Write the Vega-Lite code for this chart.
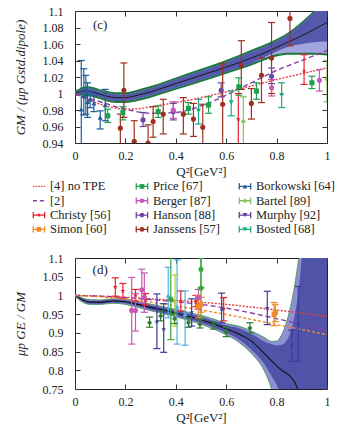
{
"$schema": "https://vega.github.io/schema/vega-lite/v6.json",
"padding": {"left": 13, "top": 4, "right": 0, "bottom": 2},
"spacing": 1,
"config": {
 "font": "Liberation Serif",
 "view": {"stroke": "#222", "strokeWidth": 1},
 "axis": {"grid": false, "domain": false, "tickSize": -5, "tickColor": "#333", "labelFontSize": 12, "titleFontSize": 13, "titleFontWeight": "normal", "labelColor": "#222", "titleColor": "#222", "labelFlush": false},
 "axisX": {"titlePadding": 4, "labelPadding": 12},
 "axisY": {"titlePadding": 15, "labelPadding": 17},
 "text": {"font": "Liberation Serif"}
},
"datasets": {
 "topband": [
  {"x":0,"c":1.000,"glo":0.9965,"ghi":1.0035,"llo":0.999,"lhi":1.001,"dlo":0.999},
  {"x":0.02,"c":1.002,"glo":0.9975,"ghi":1.0065,"llo":1.0,"lhi":1.004,"dlo":1.0},
  {"x":0.04,"c":1.003,"glo":0.9975,"ghi":1.0085,"llo":1.0,"lhi":1.006,"dlo":1.0},
  {"x":0.06,"c":1.0025,"glo":0.9965,"ghi":1.0085,"llo":0.999,"lhi":1.006,"dlo":0.999},
  {"x":0.08,"c":1.001,"glo":0.995,"ghi":1.007,"llo":0.9975,"lhi":1.0045,"dlo":0.9975},
  {"x":0.1,"c":0.999,"glo":0.993,"ghi":1.005,"llo":0.9955,"lhi":1.0025,"dlo":0.9955},
  {"x":0.13,"c":0.9965,"glo":0.99,"ghi":1.003,"llo":0.9925,"lhi":1.0005,"dlo":0.9925},
  {"x":0.16,"c":0.995,"glo":0.9885,"ghi":1.0015,"llo":0.991,"lhi":0.999,"dlo":0.991},
  {"x":0.2,"c":0.995,"glo":0.9885,"ghi":1.0015,"llo":0.991,"lhi":0.999,"dlo":0.991},
  {"x":0.25,"c":0.998,"glo":0.991,"ghi":1.005,"llo":0.9935,"lhi":1.0025,"dlo":0.9935},
  {"x":0.3,"c":1.002,"glo":0.995,"ghi":1.009,"llo":0.9975,"lhi":1.0065,"dlo":0.9975},
  {"x":0.4,"c":1.012,"glo":1.0045,"ghi":1.0195,"llo":1.007,"lhi":1.017,"dlo":1.007},
  {"x":0.5,"c":1.022,"glo":1.014,"ghi":1.03,"llo":1.0165,"lhi":1.0275,"dlo":1.0165},
  {"x":0.6,"c":1.032,"glo":1.024,"ghi":1.0405,"llo":1.0265,"lhi":1.038,"dlo":1.0265},
  {"x":0.7,"c":1.043,"glo":1.034,"ghi":1.053,"llo":1.0365,"lhi":1.0505,"dlo":1.0365},
  {"x":0.75,"c":1.049,"glo":1.04,"ghi":1.059,"llo":1.0425,"lhi":1.0565,"dlo":1.044},
  {"x":0.8,"c":1.056,"glo":1.045,"ghi":1.066,"llo":1.0475,"lhi":1.0635,"dlo":1.051},
  {"x":0.85,"c":1.063,"glo":1.047,"ghi":1.075,"llo":1.0495,"lhi":1.0725,"dlo":1.057},
  {"x":0.9,"c":1.07,"glo":1.047,"ghi":1.087,"llo":1.0495,"lhi":1.0845,"dlo":1.06},
  {"x":0.95,"c":1.078,"glo":1.047,"ghi":1.101,"llo":1.0495,"lhi":1.0985,"dlo":1.062},
  {"x":1.0,"c":1.086,"glo":1.046,"ghi":1.117,"llo":1.0485,"lhi":1.1145,"dlo":1.063}
 ],
 "toplines": [
  {"series":"[4] no TPE","x":0,"y":1.0},{"series":"[4] no TPE","x":0.05,"y":0.993},{"series":"[4] no TPE","x":0.1,"y":0.987},{"series":"[4] no TPE","x":0.15,"y":0.983},{"series":"[4] no TPE","x":0.2,"y":0.981},{"series":"[4] no TPE","x":0.25,"y":0.9815},{"series":"[4] no TPE","x":0.3,"y":0.984},{"series":"[4] no TPE","x":0.4,"y":0.989},{"series":"[4] no TPE","x":0.5,"y":0.995},{"series":"[4] no TPE","x":0.6,"y":1.002},{"series":"[4] no TPE","x":0.7,"y":1.009},{"series":"[4] no TPE","x":0.8,"y":1.017},{"series":"[4] no TPE","x":0.9,"y":1.024},{"series":"[4] no TPE","x":1.0,"y":1.031},
  {"series":"[2]","x":0,"y":1.0},{"series":"[2]","x":0.1,"y":0.99},{"series":"[2]","x":0.2,"y":0.981},{"series":"[2]","x":0.3,"y":0.976},{"series":"[2]","x":0.4,"y":0.977},{"series":"[2]","x":0.5,"y":0.985},{"series":"[2]","x":0.6,"y":0.998},{"series":"[2]","x":0.7,"y":1.013},{"series":"[2]","x":0.8,"y":1.028},{"series":"[2]","x":0.9,"y":1.04},{"series":"[2]","x":1.0,"y":1.052}
 ],
 "topdata": [
  {"series":"Borkowski [64]","x":0.025,"y":0.981,"lo":0.935,"hi":1.04},
  {"series":"Borkowski [64]","x":0.035,"y":0.997,"lo":0.974,"hi":1.03},
  {"series":"Borkowski [64]","x":0.043,"y":0.999,"lo":0.975,"hi":1.022},
  {"series":"Borkowski [64]","x":0.05,"y":0.99,"lo":0.971,"hi":1.013},
  {"series":"Borkowski [64]","x":0.06,"y":0.993,"lo":0.983,"hi":1.003},
  {"series":"Borkowski [64]","x":0.075,"y":0.988,"lo":0.978,"hi":0.998},
  {"series":"Borkowski [64]","x":0.1,"y":0.971,"lo":0.957,"hi":0.979},
  {"series":"Borkowski [64]","x":0.12,"y":0.986,"lo":0.967,"hi":1.005},
  {"series":"Price [67]","x":0.13,"y":0.973,"lo":0.965,"hi":0.981},
  {"series":"Price [67]","x":0.19,"y":0.977,"lo":0.968,"hi":0.984},
  {"series":"Price [67]","x":0.33,"y":0.978,"lo":0.971,"hi":0.985},
  {"series":"Price [67]","x":0.45,"y":0.982,"lo":0.975,"hi":0.989},
  {"series":"Price [67]","x":0.53,"y":0.986,"lo":0.976,"hi":0.996},
  {"series":"Price [67]","x":0.65,"y":1.008,"lo":0.998,"hi":1.019},
  {"series":"Price [67]","x":0.72,"y":1.003,"lo":0.993,"hi":1.013},
  {"series":"Price [67]","x":0.94,"y":1.013,"lo":1.006,"hi":1.021},
  {"series":"Janssens [57]","x":0.18,"y":0.958,"lo":0.935,"hi":0.975},
  {"series":"Janssens [57]","x":0.194,"y":1.004,"lo":0.971,"hi":1.037},
  {"series":"Janssens [57]","x":0.235,"y":0.942,"lo":0.93,"hi":0.967},
  {"series":"Janssens [57]","x":0.29,"y":0.94,"lo":0.93,"hi":0.962},
  {"series":"Janssens [57]","x":0.31,"y":0.966,"lo":0.947,"hi":0.984},
  {"series":"Janssens [57]","x":0.35,"y":0.975,"lo":0.951,"hi":0.993},
  {"series":"Janssens [57]","x":0.43,"y":0.975,"lo":0.951,"hi":0.995},
  {"series":"Janssens [57]","x":0.47,"y":0.969,"lo":0.948,"hi":0.988},
  {"series":"Janssens [57]","x":0.507,"y":0.959,"lo":0.93,"hi":0.987},
  {"series":"Janssens [57]","x":0.586,"y":0.987,"lo":0.93,"hi":1.036},
  {"series":"Janssens [57]","x":0.66,"y":1.034,"lo":1.005,"hi":1.064},
  {"series":"Janssens [57]","x":0.7,"y":0.988,"lo":0.969,"hi":1.006},
  {"series":"Janssens [57]","x":0.74,"y":1.022,"lo":0.989,"hi":1.043},
  {"series":"Janssens [57]","x":0.78,"y":1.043,"lo":1.0,"hi":1.086},
  {"series":"Janssens [57]","x":0.853,"y":1.091,"lo":1.058,"hi":1.12},
  {"series":"Hanson [88]","x":0.27,"y":0.968,"lo":0.96,"hi":0.977},
  {"series":"Hanson [88]","x":0.39,"y":0.978,"lo":0.968,"hi":0.988},
  {"series":"Hanson [88]","x":0.58,"y":1.004,"lo":0.996,"hi":1.013},
  {"series":"Hanson [88]","x":0.78,"y":1.021,"lo":1.012,"hi":1.031},
  {"series":"Berger [87]","x":0.39,"y":0.98,"lo":0.97,"hi":0.99},
  {"series":"Berger [87]","x":0.78,"y":1.007,"lo":0.997,"hi":1.017},
  {"series":"Berger [87]","x":0.97,"y":1.016,"lo":1.003,"hi":1.029},
  {"series":"Bosted [68]","x":0.49,"y":0.979,"lo":0.963,"hi":0.993},
  {"series":"Bosted [68]","x":0.62,"y":0.989,"lo":0.973,"hi":1.003},
  {"series":"Bosted [68]","x":0.82,"y":0.998,"lo":0.983,"hi":1.013},
  {"series":"Christy [56]","x":0.648,"y":0.969,"lo":0.93,"hi":1.0},
  {"series":"Christy [56]","x":0.909,"y":1.027,"lo":1.011,"hi":1.047},
  {"series":"Bartel [89]","x":0.668,"y":0.966,"lo":0.93,"hi":0.996},
  {"series":"Bartel [89]","x":1.0,"y":1.017,"lo":0.99,"hi":1.04}
 ],
 "botband": [
  {"x":0,"c":1.0,"olo":0.998,"ohi":1.002,"ilo":0.999,"ihi":1.001},
  {"x":0.03,"c":0.988,"olo":0.982,"ohi":0.993,"ilo":0.985,"ihi":0.991},
  {"x":0.06,"c":0.982,"olo":0.976,"ohi":0.989,"ilo":0.978,"ihi":0.986},
  {"x":0.1,"c":0.982,"olo":0.976,"ohi":0.988,"ilo":0.978,"ihi":0.986},
  {"x":0.15,"c":0.985,"olo":0.979,"ohi":0.991,"ilo":0.981,"ihi":0.989},
  {"x":0.2,"c":0.983,"olo":0.976,"ohi":0.99,"ilo":0.979,"ihi":0.987},
  {"x":0.25,"c":0.976,"olo":0.968,"ohi":0.984,"ilo":0.971,"ihi":0.981},
  {"x":0.3,"c":0.968,"olo":0.959,"ohi":0.977,"ilo":0.962,"ihi":0.974},
  {"x":0.35,"c":0.961,"olo":0.951,"ohi":0.97,"ilo":0.954,"ihi":0.967},
  {"x":0.4,"c":0.953,"olo":0.943,"ohi":0.963,"ilo":0.946,"ihi":0.96},
  {"x":0.45,"c":0.944,"olo":0.933,"ohi":0.955,"ilo":0.937,"ihi":0.951},
  {"x":0.5,"c":0.935,"olo":0.923,"ohi":0.947,"ilo":0.927,"ihi":0.943},
  {"x":0.55,"c":0.924,"olo":0.91,"ohi":0.937,"ilo":0.915,"ihi":0.932},
  {"x":0.6,"c":0.911,"olo":0.895,"ohi":0.925,"ilo":0.9,"ihi":0.92},
  {"x":0.65,"c":0.897,"olo":0.875,"ohi":0.918,"ilo":0.882,"ihi":0.912},
  {"x":0.7,"c":0.878,"olo":0.845,"ohi":0.905,"ilo":0.855,"ihi":0.897},
  {"x":0.75,"c":0.846,"olo":0.8,"ohi":0.888,"ilo":0.818,"ihi":0.877},
  {"x":0.78,"c":0.825,"olo":0.75,"ohi":0.877,"ilo":0.785,"ihi":0.87},
  {"x":0.8,"c":0.812,"olo":0.7,"ohi":0.878,"ilo":0.762,"ihi":0.866},
  {"x":0.82,"c":0.8,"olo":0.65,"ohi":0.895,"ilo":0.73,"ihi":0.868},
  {"x":0.85,"c":0.787,"olo":0.6,"ohi":0.955,"ilo":0.68,"ihi":0.893},
  {"x":0.87,"c":0.77,"olo":0.57,"ohi":1.02,"ilo":0.65,"ihi":0.94},
  {"x":0.89,"c":0.74,"olo":0.55,"ohi":1.11,"ilo":0.62,"ihi":1.03},
  {"x":0.9,"c":0.72,"olo":0.53,"ohi":1.16,"ilo":0.6,"ihi":1.1},
  {"x":0.92,"c":0.69,"olo":0.5,"ohi":1.25,"ilo":0.55,"ihi":1.2},
  {"x":1.0,"c":0.6,"olo":0.35,"ohi":1.6,"ilo":0.4,"ihi":1.5}
 ],
 "botlines": [
  {"series":"[4] no TPE","x":0,"y":1.0},{"series":"[4] no TPE","x":0.1,"y":0.998},{"series":"[4] no TPE","x":0.2,"y":0.995},{"series":"[4] no TPE","x":0.3,"y":0.991},{"series":"[4] no TPE","x":0.4,"y":0.987},{"series":"[4] no TPE","x":0.5,"y":0.982},{"series":"[4] no TPE","x":0.6,"y":0.976},{"series":"[4] no TPE","x":0.7,"y":0.969},{"series":"[4] no TPE","x":0.8,"y":0.961},{"series":"[4] no TPE","x":0.9,"y":0.953},{"series":"[4] no TPE","x":1.0,"y":0.944},
  {"series":"[2]","x":0,"y":1.0},{"series":"[2]","x":0.1,"y":0.998},{"series":"[2]","x":0.2,"y":0.994},{"series":"[2]","x":0.3,"y":0.989},{"series":"[2]","x":0.4,"y":0.983},{"series":"[2]","x":0.5,"y":0.976},{"series":"[2]","x":0.6,"y":0.966},{"series":"[2]","x":0.7,"y":0.953},{"series":"[2]","x":0.8,"y":0.938},{"series":"[2]","x":0.9,"y":0.922},{"series":"[2]","x":1.0,"y":0.906},
  {"series":"ref-o","x":0,"y":1.0},{"series":"ref-o","x":0.1,"y":0.996},{"series":"ref-o","x":0.2,"y":0.99},{"series":"ref-o","x":0.3,"y":0.982},{"series":"ref-o","x":0.4,"y":0.972},{"series":"ref-o","x":0.5,"y":0.961},{"series":"ref-o","x":0.6,"y":0.949},{"series":"ref-o","x":0.7,"y":0.936},{"series":"ref-o","x":0.8,"y":0.922},{"series":"ref-o","x":0.9,"y":0.909},{"series":"ref-o","x":1.0,"y":0.895}
 ],
 "botdata": [
  {"series":"Christy [56]","x":0.16,"y":1.023,"lo":0.998,"hi":1.047},
  {"series":"Christy [56]","x":0.19,"y":1.012,"lo":0.993,"hi":1.032},
  {"series":"Christy [56]","x":0.24,"y":1.0,"lo":0.985,"hi":1.016},
  {"series":"Christy [56]","x":0.28,"y":0.99,"lo":0.975,"hi":1.005},
  {"series":"Christy [56]","x":0.42,"y":0.985,"lo":0.958,"hi":1.012},
  {"series":"Christy [56]","x":0.48,"y":0.985,"lo":0.97,"hi":1.0},
  {"series":"Christy [56]","x":0.59,"y":0.965,"lo":0.932,"hi":0.994},
  {"series":"Berger [87]","x":0.225,"y":0.96,"lo":0.87,"hi":1.048},
  {"series":"Berger [87]","x":0.24,"y":0.96,"lo":0.905,"hi":1.005},
  {"series":"Berger [87]","x":0.265,"y":1.015,"lo":0.98,"hi":1.07},
  {"series":"Berger [87]","x":0.275,"y":0.995,"lo":0.955,"hi":1.06},
  {"series":"Berger [87]","x":0.49,"y":0.994,"lo":0.963,"hi":1.016},
  {"series":"Navy","x":0.325,"y":0.93,"lo":0.858,"hi":1.004},
  {"series":"Navy","x":0.352,"y":0.91,"lo":0.848,"hi":0.978},
  {"series":"Navy","x":0.463,"y":0.955,"lo":0.918,"hi":0.991},
  {"series":"Navy","x":0.582,"y":0.963,"lo":0.927,"hi":1.006},
  {"series":"Navy","x":0.763,"y":0.966,"lo":0.922,"hi":1.011},
  {"series":"Navy","x":0.86,"y":0.866,"lo":0.824,"hi":0.907},
  {"series":"Navy","x":0.886,"y":0.922,"lo":0.824,"hi":1.024},
  {"series":"DarkGreen","x":0.296,"y":0.927,"lo":0.915,"hi":0.942},
  {"series":"DarkGreen","x":0.34,"y":0.945,"lo":0.932,"hi":0.958},
  {"series":"DarkGreen","x":0.395,"y":0.938,"lo":0.925,"hi":0.952},
  {"series":"DarkGreen","x":0.45,"y":0.927,"lo":0.915,"hi":0.94},
  {"series":"DarkGreen","x":0.496,"y":0.923,"lo":0.913,"hi":0.935},
  {"series":"DarkGreen","x":0.549,"y":0.92,"lo":0.91,"hi":0.93},
  {"series":"DarkGreen","x":0.6,"y":0.902,"lo":0.89,"hi":0.915},
  {"series":"DarkGreen","x":0.694,"y":0.913,"lo":0.9,"hi":0.927},
  {"series":"Green","x":0.38,"y":0.99,"lo":0.882,"hi":1.12},
  {"series":"Green","x":0.5,"y":1.07,"lo":1.02,"hi":1.12},
  {"series":"Green","x":0.5,"y":1.02,"lo":0.94,"hi":1.1},
  {"series":"LightBlue","x":0.37,"y":1.0,"lo":0.94,"hi":1.075},
  {"series":"LightBlue","x":0.405,"y":0.97,"lo":0.87,"hi":1.095},
  {"series":"LightBlue","x":0.437,"y":0.95,"lo":0.867,"hi":1.012},
  {"series":"YellowGreen","x":0.397,"y":0.98,"lo":0.918,"hi":1.055},
  {"series":"Simon [60]","x":0.49,"y":0.97,"lo":0.94,"hi":1.0},
  {"series":"Simon [60]","x":0.5,"y":0.975,"lo":0.955,"hi":0.995},
  {"series":"Simon [60]","x":0.79,"y":0.949,"lo":0.919,"hi":0.981},
  {"series":"Simon [60]","x":0.795,"y":0.955,"lo":0.93,"hi":0.975}
 ],
 "legend": [
  {"label":"[4] no TPE","series":"[4] no TPE","kind":"dot","col":0,"row":0},
  {"label":"Price [67]","series":"Price [67]","kind":"err","col":1,"row":0},
  {"label":"Borkowski [64]","series":"Borkowski [64]","kind":"err","col":2,"row":0},
  {"label":"[2]","series":"[2]","kind":"dash","col":0,"row":1},
  {"label":"Berger [87]","series":"Berger [87]","kind":"err","col":1,"row":1},
  {"label":"Bartel [89]","series":"Bartel [89]","kind":"err","col":2,"row":1},
  {"label":"Christy [56]","series":"Christy [56]","kind":"err","col":0,"row":2},
  {"label":"Hanson [88]","series":"Hanson [88]","kind":"err","col":1,"row":2},
  {"label":"Murphy [92]","series":"Murphy [92]","kind":"err","col":2,"row":2},
  {"label":"Simon [60]","series":"Simon [60]","kind":"err","col":0,"row":3},
  {"label":"Janssens [57]","series":"Janssens [57]","kind":"err","col":1,"row":3},
  {"label":"Bosted [68]","series":"Bosted [68]","kind":"err","col":2,"row":3}
 ]
},
"vconcat": [
 {
  "width": 252, "height": 132,
  "resolve": {"axis": {"x": "independent", "y": "independent"}},
  "layer": [
   {"data": {"name": "topband"}, "mark": {"type": "area", "color": "#1b7a3a", "interpolate": "monotone", "clip": true},
    "encoding": {
     "x": {"field": "x", "type": "quantitative", "scale": {"domain": [0, 1], "nice": false, "zero": false}, "axis": {"values": [0, 0.2, 0.4, 0.6, 0.8, 1], "format": "~g", "title": "Q²[GeV²]"}},
     "y": {"field": "glo", "type": "quantitative", "scale": {"domain": [0.94, 1.1], "nice": false, "zero": false}, "axis": {"values": [0.94, 0.96, 0.98, 1, 1.02, 1.04, 1.06, 1.08, 1.1], "format": ".2~f", "title": "GM / (μp Gstd.dipole)", "titleFontStyle": "italic"}},
     "y2": {"field": "ghi"}}},
   {"data": {"name": "topband"}, "mark": {"type": "area", "color": "#a3a5de", "interpolate": "monotone", "clip": true},
    "encoding": {"x": {"field": "x", "type": "quantitative", "axis": null}, "y": {"field": "llo", "type": "quantitative", "axis": null}, "y2": {"field": "lhi"}}},
   {"data": {"name": "topband"}, "mark": {"type": "area", "color": "#5459ab", "interpolate": "monotone", "clip": true},
    "encoding": {"x": {"field": "x", "type": "quantitative", "axis": null}, "y": {"field": "dlo", "type": "quantitative", "axis": null}, "y2": {"field": "lhi"}}},
   {"data": {"name": "topband"}, "mark": {"type": "line", "color": "#111", "strokeWidth": 0.9, "interpolate": "monotone", "clip": true},
    "encoding": {"x": {"field": "x", "type": "quantitative", "axis": null}, "y": {"field": "c", "type": "quantitative", "axis": null}}},
   {"data": {"name": "toplines"}, "mark": {"type": "line", "strokeWidth": 1.4, "interpolate": "monotone", "clip": true},
    "encoding": {"x": {"field": "x", "type": "quantitative", "axis": null}, "y": {"field": "y", "type": "quantitative", "axis": null},
     "color": {"field": "series", "type": "nominal", "legend": null, "scale": {"domain": ["[4] no TPE","[2]","ref-o","Christy [56]","Simon [60]","Price [67]","Berger [87]","Hanson [88]","Janssens [57]","Borkowski [64]","Bartel [89]","Murphy [92]","Bosted [68]","Navy","DarkGreen","Green","LightBlue","YellowGreen"], "range": ["#ea3a3f","#8a3fa8","#f0892c","#e8202e","#f0892c","#1fa050","#c658b8","#6a48a0","#a0301e","#1f5c9a","#86c05a","#6a3d9a","#1fa882","#3a3d9a","#2e7a30","#38a838","#50b0e0","#b2d040"]}},
     "strokeDash": {"field": "series", "type": "nominal", "legend": null, "scale": {"domain": ["[4] no TPE","[2]","ref-o"], "range": [[2,1.5],[5,3],[3,2]]}}}},
   {"data": {"name": "topdata"}, "mark": {"type": "rule", "strokeWidth": 1.2, "clip": true},
    "encoding": {"x": {"field": "x", "type": "quantitative", "axis": null}, "y": {"field": "lo", "type": "quantitative", "axis": null}, "y2": {"field": "hi"},
     "color": {"field": "series", "type": "nominal", "legend": null}}},
   {"data": {"name": "topdata"}, "mark": {"type": "tick", "orient": "horizontal", "size": 7, "thickness": 1.2, "opacity": 1, "clip": true},
    "encoding": {"x": {"field": "x", "type": "quantitative", "axis": null}, "y": {"field": "lo", "type": "quantitative", "axis": null},
     "color": {"field": "series", "type": "nominal", "legend": null}}},
   {"data": {"name": "topdata"}, "mark": {"type": "tick", "orient": "horizontal", "size": 7, "thickness": 1.2, "opacity": 1, "clip": true},
    "encoding": {"x": {"field": "x", "type": "quantitative", "axis": null}, "y": {"field": "hi", "type": "quantitative", "axis": null},
     "color": {"field": "series", "type": "nominal", "legend": null}}},
   {"data": {"name": "topdata"}, "mark": {"type": "point", "filled": true, "size": 26, "opacity": 1, "clip": true},
    "encoding": {"x": {"field": "x", "type": "quantitative", "axis": null}, "y": {"field": "y", "type": "quantitative", "axis": null},
     "color": {"field": "series", "type": "nominal", "legend": null},
     "shape": {"field": "series", "type": "nominal", "legend": null, "scale": {"domain": ["Christy [56]","Simon [60]","Price [67]","Berger [87]","Hanson [88]","Janssens [57]","Borkowski [64]","Bartel [89]","Murphy [92]","Bosted [68]","Navy","DarkGreen","Green","LightBlue","YellowGreen"], "range": ["M0,-1L0.24,-0.33L0.95,-0.31L0.38,0.12L0.59,0.81L0,0.4L-0.59,0.81L-0.38,0.12L-0.95,-0.31L-0.24,-0.33Z","square","square","circle","circle","circle","triangle-up","diamond","triangle-down","triangle-down","M0,-1L0.24,-0.33L0.95,-0.31L0.38,0.12L0.59,0.81L0,0.4L-0.59,0.81L-0.38,0.12L-0.95,-0.31L-0.24,-0.33Z","diamond","circle","triangle-up","triangle-down"]}}}},
   {"data": {"values": [{"x": 0.1, "y": 1.083, "t": "(c)"}]}, "mark": {"type": "text", "fontSize": 13, "font": "Liberation Serif", "color": "#222"},
    "encoding": {"x": {"field": "x", "type": "quantitative", "axis": {"orient": "top", "labels": false, "title": null, "values": [0, 0.2, 0.4, 0.6, 0.8, 1]}},
     "y": {"field": "y", "type": "quantitative", "axis": {"orient": "right", "labels": false, "title": null, "values": [0.94, 0.96, 0.98, 1, 1.02, 1.04, 1.06, 1.08, 1.1]}},
     "text": {"field": "t"}}}
  ]
 },
 {
  "width": 252, "height": 65,
  "view": {"stroke": null},
  "data": {"name": "legend"},
  "encoding": {
   "x": {"field": "col", "type": "quantitative", "scale": {"domain": [0.35, 2.796], "nice": false, "zero": false}, "axis": null},
   "y": {"field": "row", "type": "quantitative", "scale": {"domain": [-0.1, 4.44], "reverse": true, "nice": false, "zero": false}, "axis": null}
  },
  "layer": [
   {"transform": [{"filter": "datum.kind == 'err'"}], "mark": {"type": "point", "shape": "M-1,-0.55L-1,0.55M-1,0L1,0M1,-0.55L1,0.55", "filled": false, "size": 130, "strokeWidth": 1.3, "opacity": 1},
    "encoding": {"color": {"field": "series", "type": "nominal", "legend": null}}},
   {"transform": [{"filter": "datum.kind == 'err'"}], "mark": {"type": "point", "filled": true, "size": 22, "opacity": 1},
    "encoding": {"color": {"field": "series", "type": "nominal", "legend": null}, "shape": {"field": "series", "type": "nominal", "legend": null}}},
   {"transform": [{"filter": "datum.kind == 'dot'"}], "mark": {"type": "point", "shape": "M-1,0L1,0", "filled": false, "size": 144, "strokeWidth": 1.2, "strokeDash": [1.5, 1.2], "color": "#ea3a3f", "opacity": 1}},
   {"transform": [{"filter": "datum.kind == 'dash'"}], "mark": {"type": "point", "shape": "M-1,0L1,0", "filled": false, "size": 144, "strokeWidth": 1.5, "strokeDash": [4, 3], "color": "#8a3fa8", "opacity": 1}},
   {"mark": {"type": "text", "align": "left", "baseline": "middle", "dx": 11, "fontSize": 12.5, "font": "Liberation Serif", "color": "#222"},
    "encoding": {"text": {"field": "label"}}}
  ]
 },
 {
  "width": 252, "height": 131,
  "resolve": {"axis": {"x": "independent", "y": "independent"}},
  "layer": [
   {"data": {"name": "botband"}, "mark": {"type": "area", "color": "#8d90d2", "stroke": "#2e8b3e", "strokeWidth": 0.7, "interpolate": "monotone", "clip": true},
    "encoding": {
     "x": {"field": "x", "type": "quantitative", "scale": {"domain": [0, 1], "nice": false, "zero": false}, "axis": {"values": [0, 0.2, 0.4, 0.6, 0.8, 1], "format": "~g", "title": "Q²[GeV²]"}},
     "y": {"field": "olo", "type": "quantitative", "scale": {"domain": [0.75, 1.1], "nice": false, "zero": false}, "axis": {"values": [0.75, 0.8, 0.85, 0.9, 0.95, 1, 1.05, 1.1], "format": ".2~f", "title": "μp GE / GM", "titleFontStyle": "italic"}},
     "y2": {"field": "ohi"}}},
   {"data": {"name": "botband"}, "mark": {"type": "area", "color": "#4f54a8", "interpolate": "monotone", "clip": true},
    "encoding": {"x": {"field": "x", "type": "quantitative", "axis": null}, "y": {"field": "ilo", "type": "quantitative", "axis": null}, "y2": {"field": "ihi"}}},
   {"data": {"name": "botband"}, "mark": {"type": "line", "color": "#111", "strokeWidth": 1.1, "interpolate": "monotone", "clip": true},
    "encoding": {"x": {"field": "x", "type": "quantitative", "axis": null}, "y": {"field": "c", "type": "quantitative", "axis": null}}},
   {"data": {"name": "botlines"}, "mark": {"type": "line", "strokeWidth": 1.4, "interpolate": "monotone", "clip": true},
    "encoding": {"x": {"field": "x", "type": "quantitative", "axis": null}, "y": {"field": "y", "type": "quantitative", "axis": null},
     "color": {"field": "series", "type": "nominal", "legend": null},
     "strokeDash": {"field": "series", "type": "nominal", "legend": null}}},
   {"data": {"name": "botdata"}, "mark": {"type": "rule", "strokeWidth": 1.2, "clip": true},
    "encoding": {"x": {"field": "x", "type": "quantitative", "axis": null}, "y": {"field": "lo", "type": "quantitative", "axis": null}, "y2": {"field": "hi"},
     "color": {"field": "series", "type": "nominal", "legend": null}}},
   {"data": {"name": "botdata"}, "mark": {"type": "tick", "orient": "horizontal", "size": 7, "thickness": 1.2, "opacity": 1, "clip": true},
    "encoding": {"x": {"field": "x", "type": "quantitative", "axis": null}, "y": {"field": "lo", "type": "quantitative", "axis": null},
     "color": {"field": "series", "type": "nominal", "legend": null}}},
   {"data": {"name": "botdata"}, "mark": {"type": "tick", "orient": "horizontal", "size": 7, "thickness": 1.2, "opacity": 1, "clip": true},
    "encoding": {"x": {"field": "x", "type": "quantitative", "axis": null}, "y": {"field": "hi", "type": "quantitative", "axis": null},
     "color": {"field": "series", "type": "nominal", "legend": null}}},
   {"data": {"name": "botdata"}, "mark": {"type": "point", "filled": true, "size": 26, "opacity": 1, "clip": true},
    "encoding": {"x": {"field": "x", "type": "quantitative", "axis": null}, "y": {"field": "y", "type": "quantitative", "axis": null},
     "color": {"field": "series", "type": "nominal", "legend": null},
     "shape": {"field": "series", "type": "nominal", "legend": null}}},
   {"data": {"values": [{"x": 0.1, "y": 1.069, "t": "(d)"}]}, "mark": {"type": "text", "fontSize": 13, "font": "Liberation Serif", "color": "#222"},
    "encoding": {"x": {"field": "x", "type": "quantitative", "axis": {"orient": "top", "labels": false, "title": null, "values": [0, 0.2, 0.4, 0.6, 0.8, 1]}},
     "y": {"field": "y", "type": "quantitative", "axis": {"orient": "right", "labels": false, "title": null, "values": [0.75, 0.8, 0.85, 0.9, 0.95, 1, 1.05, 1.1]}},
     "text": {"field": "t"}}}
  ]
 }
]
}
